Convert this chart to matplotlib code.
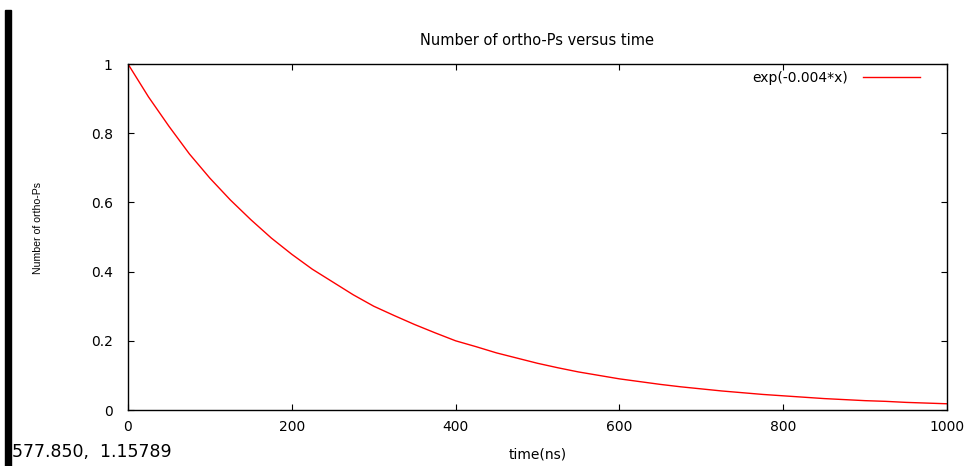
import matplotlib.pyplot as plt
from matplotlib.patches import Rectangle

# values
time_ns = [0, 25, 50, 75, 100, 125, 150, 175, 200, 225, 250, 275, 300, 325,
           350, 375, 400, 425, 450, 475, 500, 525, 550, 575, 600, 625, 650,
           675, 700, 725, 750, 775, 800, 825, 850, 875, 900, 925, 950, 975, 1000]
n_ops = [1.0, 0.905, 0.82, 0.74, 0.67, 0.607, 0.55, 0.497, 0.45, 0.407, 0.37,
         0.333, 0.30, 0.273, 0.247, 0.223, 0.20, 0.183, 0.165, 0.15, 0.135,
         0.122, 0.11, 0.10, 0.09, 0.082, 0.074, 0.067, 0.061, 0.055, 0.05,
         0.045, 0.041, 0.037, 0.033, 0.03, 0.027, 0.025, 0.022, 0.02, 0.018]
x_ticks = [0, 200, 400, 600, 800, 1000]
y_ticks = [0, 0.2, 0.4, 0.6, 0.8, 1]
y_labels = ['0', '0.2', '0.4', '0.6', '0.8', '1']

fig = plt.figure(figsize=(9.69, 4.66), dpi=100)
ax = fig.add_axes([128 / 969, 1 - 410 / 466, 819 / 969, 346 / 466])

ax.plot(time_ns, n_ops, color='red', linewidth=1, label='exp(-0.004*x)')
ax.set_xlim(0, 1000)
ax.set_ylim(0, 1)
ax.set_xticks(x_ticks)
ax.set_yticks(y_ticks)
ax.set_yticklabels(y_labels)
ax.tick_params(direction='in', top=True, right=True, labelsize=10, length=4)
ax.tick_params(axis='y', pad=11)
ax.tick_params(axis='x', pad=7)
for s in ax.spines.values():
    s.set_linewidth(1)

ax.set_title('Number of ortho-Ps versus time', fontsize=10.5, pad=14,
             family='DejaVu Sans')
ax.set_xlabel('time(ns)', fontsize=10, labelpad=10)
ax.set_ylabel('Number of ortho-Ps', fontsize=7.6, family='Liberation Sans')
ax.yaxis.set_label_coords(-85 / 819, 182 / 346)

leg = ax.legend(loc='upper right', frameon=False, fontsize=10, markerfirst=False,
                handlelength=4.1, handletextpad=1.1,
                bbox_to_anchor=(0.982, 1.017))

# black bar on the left edge and the mouse coordinates readout
fig.patches.append(Rectangle((5 / 969, 0), 6 / 969, 1 - 10 / 466,
                             transform=fig.transFigure, color='black'))
fig.text(12 / 969, 1 - 452 / 466, '577.850,  1.15789', fontsize=12.5, va='center')

fig.savefig('out.png', dpi=100)
